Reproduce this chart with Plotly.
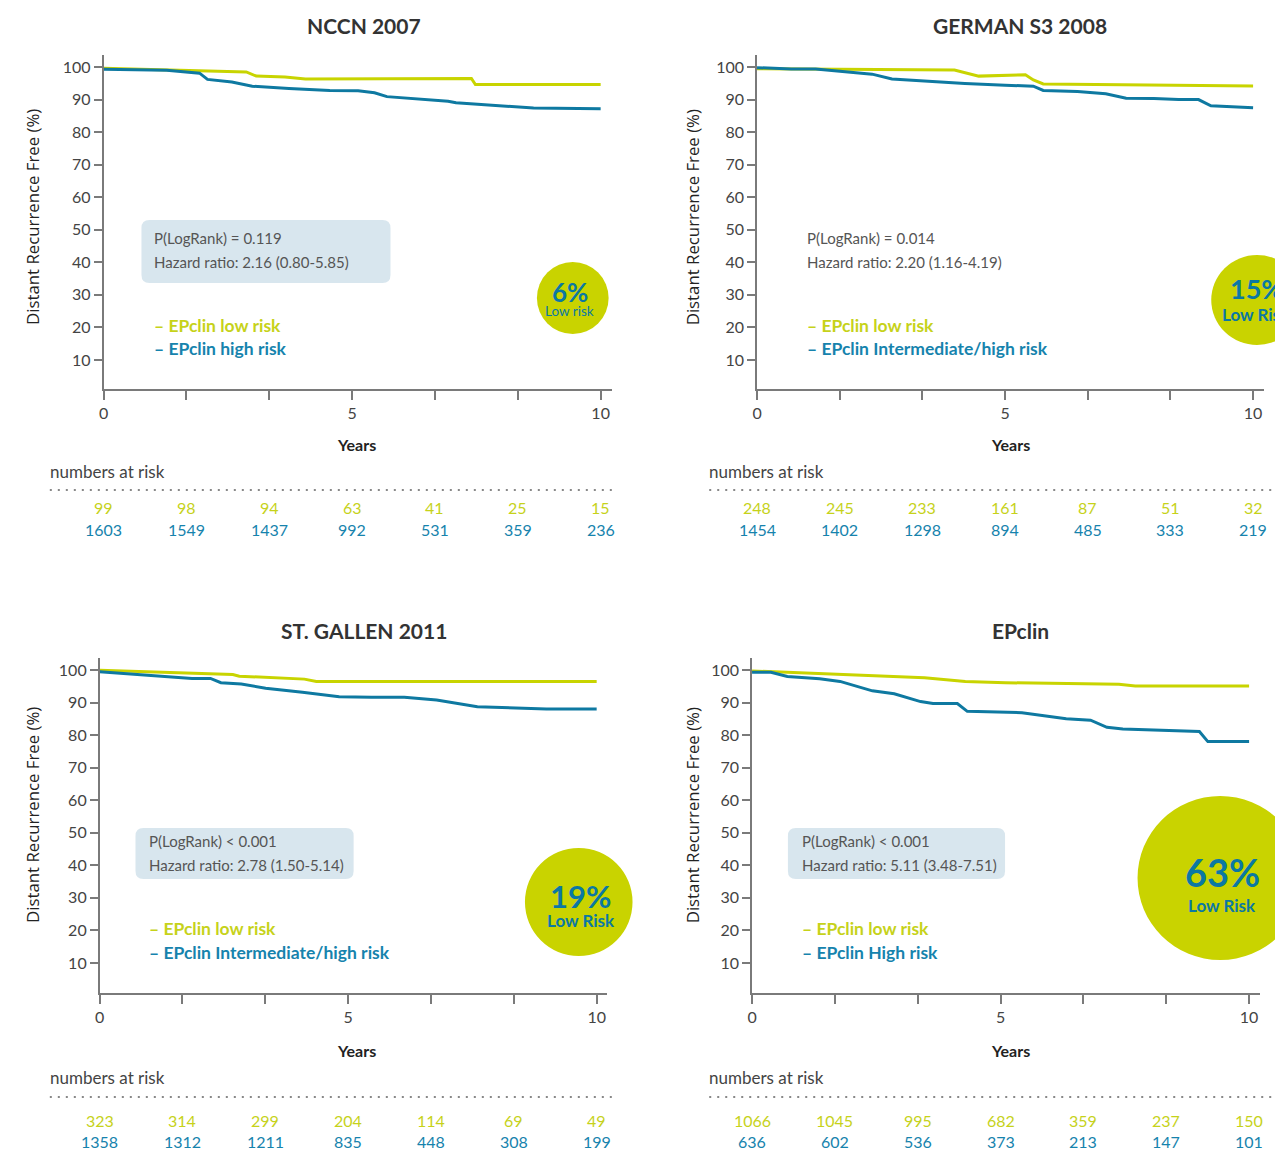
import plotly.graph_objects as go

W, H = 1275, 1152

# ---------------- data ----------------
titles = ["NCCN 2007", "GERMAN S3 2008", "ST. GALLEN 2011", "EPclin"]

nccn_low_t = [0, 2.87, 3.07, 3.65, 4.06, 7.40, 7.48, 10]
nccn_low_s = [99.6, 98.5, 97.2, 96.9, 96.3, 96.5, 94.6, 94.6]
nccn_high_t = [0, 1.27, 1.93, 2.09, 2.58, 2.99, 3.73, 4.55, 5.12, 5.45, 5.70, 6.19, 6.93, 7.09, 7.83, 8.65, 10]
nccn_high_s = [99.3, 99.0, 98.1, 96.2, 95.4, 94.1, 93.4, 92.8, 92.7, 92.1, 90.9, 90.3, 89.5, 89.0, 88.3, 87.4, 87.2]

german_low_t = [0, 3.98, 4.47, 5.41, 5.57, 5.77, 10]
german_low_s = [99.5, 99.1, 97.2, 97.6, 96.0, 94.8, 94.2]
german_high_t = [0, 0.69, 1.18, 1.75, 2.32, 2.72, 3.37, 4.19, 5.0, 5.57, 5.77, 6.46, 7.03, 7.44, 8.0, 8.5, 8.9, 9.15, 10]
german_high_s = [99.8, 99.4, 99.4, 98.5, 97.8, 96.3, 95.7, 94.9, 94.4, 94.1, 92.8, 92.5, 91.8, 90.4, 90.3, 90.0, 90.0, 88.1, 87.5]

stgallen_low_t = [0, 2.68, 2.81, 4.12, 4.36, 10]
stgallen_low_s = [99.9, 98.6, 98.1, 97.2, 96.5, 96.5]
stgallen_high_t = [0, 1.53, 1.86, 2.23, 2.44, 2.85, 3.34, 4.08, 4.82, 5.47, 6.13, 6.78, 7.6, 8.99, 10]
stgallen_high_s = [99.5, 97.9, 97.4, 97.4, 96.1, 95.7, 94.4, 93.2, 91.8, 91.6, 91.6, 90.8, 88.7, 88.0, 88.0]

epclin_low_t = [0, 3.47, 4.29, 5.1, 7.38, 7.71, 10]
epclin_low_s = [99.7, 97.6, 96.5, 96.1, 95.6, 95.1, 95.1]
epclin_high_t = [0, 0.38, 0.71, 1.36, 1.77, 2.09, 2.42, 2.86, 3.39, 3.64, 4.13, 4.33, 5.43, 6.32, 6.81, 7.14, 7.46, 9.0, 9.17, 10]
epclin_high_s = [99.3, 99.3, 98.0, 97.3, 96.5, 95.1, 93.6, 92.7, 90.3, 89.7, 89.7, 87.3, 86.9, 85.0, 84.6, 82.4, 81.9, 81.1, 78.0, 78.0]

risk_times = [0, 10 / 6, 20 / 6, 5, 40 / 6, 50 / 6, 10]
nccn_low_risk = [99, 98, 94, 63, 41, 25, 15]
nccn_high_risk = [1603, 1549, 1437, 992, 531, 359, 236]
german_low_risk = [248, 245, 233, 161, 87, 51, 32]
german_high_risk = [1454, 1402, 1298, 894, 485, 333, 219]
stgallen_low_risk = [323, 314, 299, 204, 114, 69, 49]
stgallen_high_risk = [1358, 1312, 1211, 835, 448, 308, 199]
epclin_low_risk = [1066, 1045, 995, 682, 359, 237, 150]
epclin_high_risk = [636, 602, 536, 373, 213, 147, 101]

stat_p = ["P(LogRank) = 0.119", "P(LogRank) = 0.014", "P(LogRank) < 0.001", "P(LogRank) < 0.001"]
stat_hr = ["Hazard ratio: 2.16 (0.80-5.85)", "Hazard ratio: 2.20 (1.16-4.19)",
           "Hazard ratio: 2.78 (1.50-5.14)", "Hazard ratio: 5.11 (3.48-7.51)"]
legend_low = ["EPclin low risk"] * 4
legend_high = ["EPclin high risk", "EPclin Intermediate/high risk",
               "EPclin Intermediate/high risk", "EPclin High risk"]
circle_pct = ["6%", "15%", "19%", "63%"]
circle_lbl = ["Low risk", "Low Risk", "Low Risk", "Low Risk"]

low_t = [nccn_low_t, german_low_t, stgallen_low_t, epclin_low_t]
low_s = [nccn_low_s, german_low_s, stgallen_low_s, epclin_low_s]
high_t = [nccn_high_t, german_high_t, stgallen_high_t, epclin_high_t]
high_s = [nccn_high_s, german_high_s, stgallen_high_s, epclin_high_s]
low_risk = [nccn_low_risk, german_low_risk, stgallen_low_risk, epclin_low_risk]
high_risk = [nccn_high_risk, german_high_risk, stgallen_high_risk, epclin_high_risk]

# ---------------- styling / layout (pixels) ----------------
YEL = "#c8d400"
YEL_TXT = "#c6d21a"
BLU = "#0e79a1"
BLU_TXT = "#1683ad"
AX = "#7a7a7a"
BOXFILL = "#d8e6ee"
FONT = "Lato"

# x0 (t=0), x10 (t=10), xend, y100, y10, ybot, ytop
panels = [
    dict(x0=99, x10=598, xend=609, y100=67, y10=360, ybot=389, ytop=55),
    dict(x0=755, x10=1253, xend=1264, y100=67, y10=360, ybot=389, ytop=55),
    dict(x0=95, x10=594, xend=604, y100=670, y10=963, ybot=993, ytop=658),
    dict(x0=750, x10=1249, xend=1260, y100=670, y10=963, ybot=993, ytop=658),
]
title_pos = [(360, 26), (1019, 26), (360, 630), (1019, 630)]
ytitle_pos = [(27, 217), (690, 217), (27, 815), (690, 815)]
years_pos = [(353, 444), (1009, 444), (353, 1050), (1009, 1050)]
nar_pos = [(43, 471), (705, 471), (43, 1077), (705, 1077)]
dot_line = [(45, 612, 490), (707, 1275, 490), (45, 612, 1097), (707, 1275, 1097)]
risk_rows = [(507, 529), (507, 529), (1120, 1141), (1120, 1141)]
box = [(137, 387, 220, 283), None, (131, 350, 828, 879), (786, 1004, 828, 879)]
stat_txt = [(148, 238, 262), (803, 238, 262), (143, 841, 865), (798, 841, 865)]
leg_txt = [(148, 325, 349), (803, 325, 349), (143, 928, 952), (798, 928, 952)]
circles = [(570, 298, 36, 36), (1257, 300, 46, 45), (576, 902, 54, 54), (1220, 878, 83, 82)]
circle_txt = [(567, 292, 311, 26, 13.5, False), (1256, 288, 314, 27, 17, True),
              (578, 896, 920, 31, 17, True), (1222, 872, 905, 38, 17, True)]


def px(x):
    return x / W


def py(y):
    return 1 - y / H


fig = go.Figure()
annotations = []
shapes = []
layout_axes = {}

for i, p in enumerate(panels):
    n = "" if i == 0 else str(i + 1)
    xa, ya = "x" + n, "y" + n
    xr_end = 10 * (p["xend"] - p["x0"]) / (p["x10"] - p["x0"])
    ppu = (p["y10"] - p["y100"]) / 90.0
    ylo = 10 - (p["ybot"] - p["y10"]) / ppu
    yhi = 100 + (p["y100"] - p["ytop"]) / ppu

    layout_axes["xaxis" + n] = dict(
        domain=[px(p["x0"]), px(p["xend"])], range=[0, xr_end], anchor=ya,
        showline=True, linecolor=AX, linewidth=1.5, showgrid=False, zeroline=False,
        tickmode="array", tickvals=risk_times, ticktext=["0", "", "", "5", "", "", "10"],
        ticks="outside", ticklen=9, tickcolor=AX, tickwidth=1.5,
        tickfont=dict(family=FONT, size=16, color="#444"), fixedrange=True,
    )
    layout_axes["yaxis" + n] = dict(
        domain=[py(p["ybot"]), py(p["ytop"])], range=[ylo, yhi], anchor=xa,
        showline=True, linecolor=AX, linewidth=1.5, showgrid=False, zeroline=False,
        tickmode="array", tickvals=list(range(10, 101, 10)),
        ticks="outside", ticklen=8, tickcolor=AX, tickwidth=1.5,
        tickfont=dict(family=FONT, size=16, color="#444"), fixedrange=True,
    )

    fig.add_trace(go.Scatter(x=low_t[i], y=low_s[i], mode="lines", xaxis=xa, yaxis=ya,
                             line=dict(color=YEL, width=3), showlegend=False, hoverinfo="skip"))
    fig.add_trace(go.Scatter(x=high_t[i], y=high_s[i], mode="lines", xaxis=xa, yaxis=ya,
                             line=dict(color=BLU, width=3), showlegend=False, hoverinfo="skip"))

    # title
    tx, ty = title_pos[i]
    annotations.append(dict(x=px(tx), y=py(ty), xref="paper", yref="paper", text="<b>%s</b>" % titles[i],
                            showarrow=False, font=dict(family=FONT, size=21, color="#333"),
                            xanchor="center", yanchor="middle"))
    # y title
    yx, yy = ytitle_pos[i]
    annotations.append(dict(x=px(yx), y=py(yy), xref="paper", yref="paper",
                            text="Distant Recurrence Free (%)", textangle=-90, showarrow=False,
                            font=dict(family="Open Sans", size=16.8, color="#222"),
                            xanchor="center", yanchor="middle"))
    # Years
    wx, wy = years_pos[i]
    annotations.append(dict(x=px(wx), y=py(wy), xref="paper", yref="paper", text="<b>Years</b>",
                            showarrow=False, font=dict(family=FONT, size=16, color="#222"),
                            xanchor="center", yanchor="middle"))
    # numbers at risk
    nx, ny = nar_pos[i]
    annotations.append(dict(x=px(nx), y=py(ny), xref="paper", yref="paper", text="numbers at risk",
                            showarrow=False, font=dict(family=FONT, size=17, color="#444"),
                            xanchor="left", yanchor="middle"))
    dx0, dx1, dy = dot_line[i]
    shapes.append(dict(type="line", xref="paper", yref="paper", x0=px(dx0), x1=px(dx1),
                       y0=py(dy), y1=py(dy), line=dict(color="#888", width=2.2, dash="2px,6px")))
    ry1, ry2 = risk_rows[i]
    for t, a, b in zip(risk_times, low_risk[i], high_risk[i]):
        annotations.append(dict(x=t, y=py(ry1), xref=xa, yref="paper", text=str(a), showarrow=False,
                                font=dict(family=FONT, size=16, color=YEL_TXT),
                                xanchor="center", yanchor="middle"))
        annotations.append(dict(x=t, y=py(ry2), xref=xa, yref="paper", text=str(b), showarrow=False,
                                font=dict(family=FONT, size=16, color=BLU_TXT),
                                xanchor="center", yanchor="middle"))

    # stat box
    if box[i] is not None:
        bx0, bx1, by0, by1 = box[i]
        r = 8
        path = (
            f"M {px(bx0 + r)},{py(by0)} L {px(bx1 - r)},{py(by0)} "
            f"Q {px(bx1)},{py(by0)} {px(bx1)},{py(by0 + r)} L {px(bx1)},{py(by1 - r)} "
            f"Q {px(bx1)},{py(by1)} {px(bx1 - r)},{py(by1)} L {px(bx0 + r)},{py(by1)} "
            f"Q {px(bx0)},{py(by1)} {px(bx0)},{py(by1 - r)} L {px(bx0)},{py(by0 + r)} "
            f"Q {px(bx0)},{py(by0)} {px(bx0 + r)},{py(by0)} Z"
        )
        shapes.append(dict(type="path", xref="paper", yref="paper", path=path,
                           fillcolor=BOXFILL, line=dict(width=0), layer="below"))
    sx, sy1, sy2 = stat_txt[i]
    for txt, yy_ in ((stat_p[i], sy1), (stat_hr[i], sy2)):
        annotations.append(dict(x=px(sx), y=py(yy_), xref="paper", yref="paper", text=txt,
                                showarrow=False, font=dict(family=FONT, size=15, color="#555"),
                                xanchor="left", yanchor="middle"))
    # legend text
    lx, ly1, ly2 = leg_txt[i]
    annotations.append(dict(x=px(lx), y=py(ly1), xref="paper", yref="paper",
                            text="<b>– %s</b>" % legend_low[i], showarrow=False,
                            font=dict(family=FONT, size=17.5, color=YEL_TXT),
                            xanchor="left", yanchor="middle"))
    annotations.append(dict(x=px(lx), y=py(ly2), xref="paper", yref="paper",
                            text="<b>– %s</b>" % legend_high[i], showarrow=False,
                            font=dict(family=FONT, size=17.5, color=BLU_TXT),
                            xanchor="left", yanchor="middle"))
    # circle
    cx, cy, rx, ry = circles[i]
    shapes.append(dict(type="circle", xref="paper", yref="paper",
                       x0=px(cx - rx), x1=px(cx + rx), y0=py(cy + ry), y1=py(cy - ry),
                       fillcolor="#c9d300", line=dict(width=0), layer="above"))
    ctx, cty1, cty2, s1, s2, bold2 = circle_txt[i]
    annotations.append(dict(x=px(ctx), y=py(cty1), xref="paper", yref="paper",
                            text="<b>%s</b>" % circle_pct[i], showarrow=False,
                            font=dict(family=FONT, size=s1, color="#0b78a3"),
                            xanchor="center", yanchor="middle"))
    lbl = ("<b>%s</b>" % circle_lbl[i]) if bold2 else circle_lbl[i]
    annotations.append(dict(x=px(ctx), y=py(cty2), xref="paper", yref="paper",
                            text=lbl, showarrow=False,
                            font=dict(family=FONT, size=s2, color="#0b78a3"),
                            xanchor="center", yanchor="middle"))

fig.update_layout(
    width=W, height=H, margin=dict(l=0, r=0, t=0, b=0),
    paper_bgcolor="white", plot_bgcolor="rgba(0,0,0,0)",
    annotations=annotations, shapes=shapes, showlegend=False,
    font=dict(family=FONT),
    **layout_axes,
)

fig.write_html("out.html", config={"displayModeBar": False},
               post_script="document.body.style.margin='0';document.body.style.overflow='hidden';")
